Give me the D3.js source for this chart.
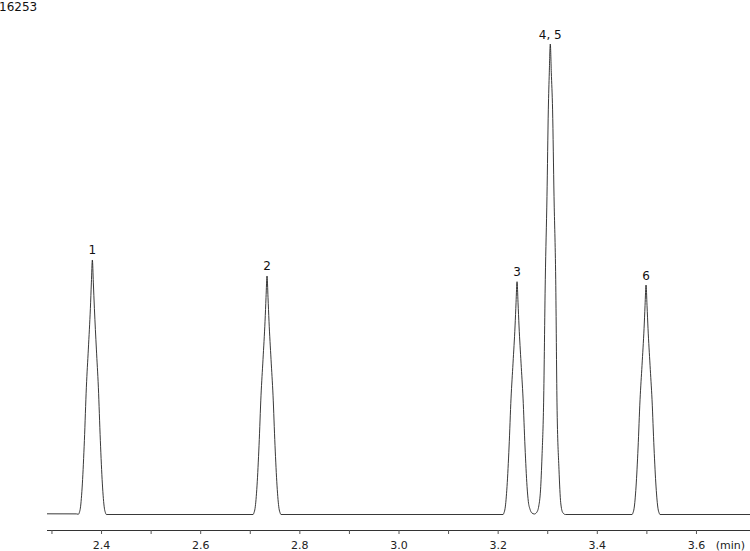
<!DOCTYPE html>
<html>
<head>
<meta charset="utf-8">
<script src="https://cdn.jsdelivr.net/npm/d3@7/dist/d3.min.js"></script>
<style>
  html, body { margin: 0; padding: 0; background: #fff; }
  svg { display: block; }
</style>
</head>
<body>
<svg id="chart" width="750" height="551"></svg>
<script>
// ---- data (time in min, signal intensity) ----
const traceTime = [
  2.291, 2.350, 2.3543, 2.3563, 2.3583, 2.3623, 2.3664, 2.3704, 2.3744, 2.3785, 2.3805, 2.3825,
  2.3845, 2.3866, 2.3906, 2.3946, 2.3986, 2.4027, 2.4067, 2.4087, 2.4107,
  2.7066, 2.7086, 2.7106, 2.7146, 2.7187, 2.7227, 2.7267, 2.7308, 2.7328, 2.7348,
  2.7368, 2.7388, 2.7429, 2.7469, 2.7509, 2.7550, 2.7590, 2.7610, 2.7630,
  3.2109, 3.2129, 3.2149, 3.2189, 3.2230, 3.2270, 3.2310, 3.2351, 3.2371, 3.2391,
  3.2411, 3.2431, 3.2472, 3.2512, 3.2552, 3.2593, 3.2619, 3.2653, 3.2687, 3.2740,
  3.2788, 3.2830, 3.2865, 3.2895, 3.2927, 3.2961, 3.2995, 3.3022, 3.3042, 3.3062,
  3.3082, 3.3108, 3.3137, 3.3171, 3.3197, 3.3237, 3.3272, 3.3314, 3.3365,
  3.4711, 3.4731, 3.4751, 3.4791, 3.4832, 3.4872, 3.4912, 3.4953, 3.4973, 3.4993,
  3.5013, 3.5033, 3.5074, 3.5114, 3.5154, 3.5195, 3.5235, 3.5255, 3.5275,
  3.709
];
const traceSignal = [
  22, 20, 8, 66, 207, 993, 2399, 4137, 5377, 6701, 7528, 8273,
  7528, 6701, 5377, 4137, 2399, 993, 207, 66, 0,
  0, 62, 194, 930, 2248, 3877, 5039, 6280, 7055, 7753,
  7055, 6280, 5039, 3877, 2248, 930, 194, 62, 0,
  0, 61, 189, 908, 2194, 3784, 4919, 6129, 6886, 7567,
  6886, 6129, 4919, 3784, 2194, 908, 420, 170, 55, 16,
  70, 280, 800, 1900, 3628, 7647, 10339, 13153, 14376, 15294,
  14376, 13153, 10339, 7647, 3628, 1470, 383, 60, 0,
  0, 60, 187, 895, 2163, 3730, 4849, 6043, 6789, 7460,
  6789, 6043, 4849, 3730, 2163, 895, 187, 60, 0,
  0
];
const peakLabels = ["1", "2", "3", "4, 5", "6"];
const peakTimes  = [2.3825, 2.7348, 3.2391, 3.3062, 3.4993];
const peakHeights = [8273, 7753, 7567, 15294, 7460];
const tickValues = [2.3, 2.4, 2.5, 2.6, 2.7, 2.8, 2.9, 3.0, 3.1, 3.2, 3.3, 3.4, 3.5, 3.6];
const tickLabels = ["2.4", "2.6", "2.8", "3.0", "3.2", "3.4", "3.6"];
const yMaxLabel = "16253";
const xUnit = "(min)";

// ---- scales ----
const x = d3.scaleLinear().domain([2.291, 3.709]).range([47, 750]);
const y = d3.scaleLinear().domain([0, 16253]).range([514.5, 14.5]);

const svg = d3.select("#chart");
const font = "'DejaVu Sans', Verdana, sans-serif";

// y max label
svg.append("text")
  .attr("x", -1).attr("y", 11)
  .attr("font-family", font).attr("font-size", 12)
  .attr("fill", "#111")
  .text(yMaxLabel);

// trace
const pts = traceTime.map((t, i) => [t, traceSignal[i]]);
const line = d3.line()
  .x(d => x(d[0])).y(d => y(d[1]))
  .curve(d3.curveMonotoneX);
svg.append("path")
  .datum(pts)
  .attr("d", line)
  .attr("fill", "none")
  .attr("stroke", "#222")
  .attr("stroke-width", 0.9);

// peak labels
svg.selectAll("text.peak")
  .data(peakLabels)
  .join("text")
  .attr("class", "peak")
  .attr("x", (d, i) => x(peakTimes[i]))
  .attr("y", (d, i) => y(peakHeights[i]) - 5.5)
  .attr("text-anchor", "middle")
  .attr("font-family", font).attr("font-size", 12)
  .attr("fill", "#111")
  .text(d => d);

// x axis
const axisY = 530;
const axis = d3.axisBottom(x)
  .tickValues(tickValues)
  .tickSize(4)
  .tickFormat(d => {
    const s = d3.format(".1f")(d);
    return tickLabels.includes(s) ? s : "";
  });
const gAxis = svg.append("g")
  .attr("transform", `translate(0,${axisY})`)
  .call(axis);
gAxis.select(".domain")
  .attr("d", `M${x.range()[0]},0.5H${x.range()[1]}`)
  .attr("stroke", "#333");
gAxis.selectAll(".tick line").attr("stroke", "#555");
gAxis.selectAll(".tick text")
  .attr("font-family", font).attr("font-size", 11)
  .attr("fill", "#222")
  .attr("y", 11);

svg.append("text")
  .attr("x", 745).attr("y", 549)
  .attr("text-anchor", "end")
  .attr("font-family", font).attr("font-size", 11)
  .attr("fill", "#222")
  .text(xUnit);
</script>
</body>
</html>
